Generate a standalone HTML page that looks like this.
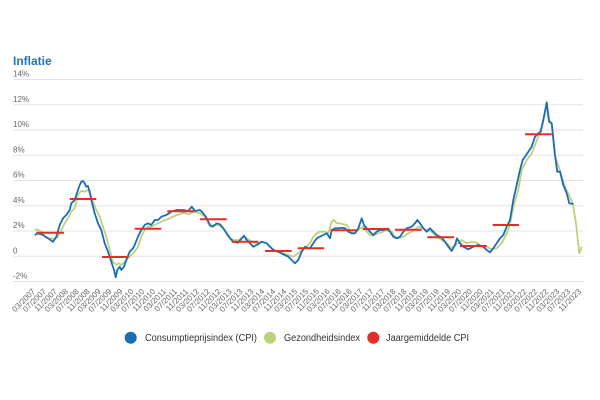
<!DOCTYPE html>
<html><head><meta charset="utf-8"><style>
html,body{margin:0;padding:0;background:#fff;}
svg{display:block;font-family:"Liberation Sans",sans-serif;}
</style></head><body>
<svg width="600" height="400" viewBox="0 0 600 400" xmlns="http://www.w3.org/2000/svg">
<rect width="600" height="400" fill="#fff"/>
<text x="13" y="65" font-size="12" font-weight="bold" fill="#2475b5">Inflatie</text>
<g stroke="#e3e3e3" stroke-width="1">
<line x1="13" x2="583" y1="79.5" y2="79.5"/>
<line x1="13" x2="583" y1="104.8" y2="104.8"/>
<line x1="13" x2="583" y1="130" y2="130"/>
<line x1="13" x2="583" y1="155.3" y2="155.3"/>
<line x1="13" x2="583" y1="180.5" y2="180.5"/>
<line x1="13" x2="583" y1="205.8" y2="205.8"/>
<line x1="13" x2="583" y1="231" y2="231"/>
<line x1="13" x2="583" y1="256.3" y2="256.3"/>
<line x1="13" x2="583" y1="281.5" y2="281.5"/>
</g>
<g font-size="8" fill="#666">
<text x="13" y="76.5">14%</text>
<text x="13" y="101.8">12%</text>
<text x="13" y="127">10%</text>
<text x="13" y="152.3">8%</text>
<text x="13" y="177.5">6%</text>
<text x="13" y="202.8">4%</text>
<text x="13" y="228">2%</text>
<text x="13" y="253.3">0</text>
<text x="13" y="278.5">-2%</text>
</g>
<polyline fill="none" stroke="#bdd17c" stroke-width="1.8" stroke-linejoin="round" points="34.7,229.3 38,230 41.3,231.7 44.7,236.7 48,238.3 51.3,238.3 54.7,239.3 58,236.7 61.3,230 64.7,223.3 68,218.3 71.3,211.7 74.7,208.3 78,195 81.3,190.7 84.7,191.7 88,190 89.7,193.3 93,201.7 96.3,210 99.7,216.7 103,226.7 106.3,236.7 109.7,250 113,261.7 116.3,265 118.7,263.3 121.3,265 124.7,261.7 128,258.3 131.3,255 134.7,251.7 138,246.7 141.3,236.7 144.7,230 148,226.7 151.3,226.7 154.7,225 158,223.3 161.3,221.7 168,219 174.7,216 180,214 183.3,212.5 188.3,214.3 193.3,211.7 200,213.3 205,216.7 210,226.7 213.3,225 218.3,225 223.3,228.3 228.3,236.7 233.3,240 238.3,240 243.3,236.7 246.7,238.3 251.7,241.7 256.7,243.3 261.7,241.7 266.7,243.3 271.7,248.3 276.7,251.7 283.3,253.3 288.3,255 293.3,256.7 298.3,253.3 301.7,250 305,248.3 310,243.3 313.3,236.7 316.7,233.3 320,231.7 325,231.7 328.3,233.3 331.7,221.7 334,220 336.7,223.3 340,223.3 343.3,224.3 346.7,225 350,231 353.3,233.3 356.7,231.7 360,228.3 363.3,226.7 366.7,231.7 370,235 373.3,235.7 378.3,233.3 383.3,231.7 388.3,228.3 391.7,231.7 395,236.7 398.3,238.3 403.3,236.7 408.3,233.3 413.3,231 418.3,226.7 423.3,228.3 426.7,230 431.7,231.7 436.7,236.7 441.7,240 446.7,243.3 451.7,248.3 455,245 458.3,243.3 461.7,240 466.7,243.3 471.7,241.7 476.7,242.7 481.7,246.7 486.7,246.7 491.7,249.3 496.7,248.3 501.7,243.3 506.7,233.3 510,225 513.3,206.7 518.3,190 521.7,170 526.7,160 531.7,153.3 535,145 538.3,136.7 541.7,126.7 545,113.3 546.7,101.7 549.3,120 551.7,123.3 555,156.7 558.3,165 561.7,176.7 565,186.7 568.3,193.3 572.7,203.3 576,223.3 579.3,253.3 581.7,246.7"/>
<polyline fill="none" stroke="#1b6db3" stroke-width="1.8" stroke-linejoin="round" points="34.7,235 38,233.3 43,235 48,238.3 53,241.7 56.3,236.7 59.7,225 63,218.3 66.3,215 69.7,210 71.3,203.3 73,201.7 74.7,200 76.3,195 78,190 79.7,185 81.3,181.7 83,181 84.7,183.3 86.3,186.7 88,186 89.7,191.7 91.3,200 94.7,213.3 98,223.3 101.3,230 104.7,243.3 108,251.7 111.3,261.7 114,270 115.7,277.3 117.3,270 119.7,266.7 121.3,270 124,266.7 126.3,260 129.7,251.7 133,248.3 134.7,245 138,236.7 141.3,230 144.7,225 148,223.3 151.3,225 154.7,220 158,220 161.3,216.7 166.3,215 171.3,211.7 176.7,210 183.3,210 188.3,211 191.7,206.7 195,211 200,210 203.3,213.3 206.7,218.3 210,225 212.7,226.7 216.7,223.3 220,224.3 223.3,228.3 226.7,233.3 230,238.3 233.3,241.7 238.3,242.7 241.7,238.3 244,235.7 246.7,240 250,243.3 253.3,246.7 256.7,245 261.7,241.7 266.7,243.3 270,246.7 273.3,250 278.3,251.7 283.3,254.3 288.3,256.7 291.7,260 295,263.3 298.3,260 301.7,251.7 305,246.7 308.3,248.3 310,248.3 313.3,243.3 316.7,238.3 320,236.7 323.3,235 326.7,233.3 330,238.3 331.7,230 335,228.3 338.3,228.3 341.7,227.7 345,228.3 348.3,231.7 351.7,233.3 355,233.3 358.3,228.3 361.7,218.3 364,225 366.7,228.3 370,231.7 373.3,235 376.7,231.7 380,230 383.3,230 386.7,229 390,231.7 393.3,236.7 396.7,238.3 400,236.7 403.3,231.7 406.7,228.3 411.7,226.7 415,223.3 417.3,220 420,223.3 423.3,228.3 426.7,231.7 430,228.3 433.3,231.7 436.7,235 441.7,237.7 445,241.7 448.3,246.7 451.7,251 455,245 457,238.3 460,243.3 463.3,246.7 468.3,249.3 473.3,246.7 478.3,245 483.3,246.7 486.7,250 490,252.3 493.3,248.3 496.7,243.3 500,238.3 503.3,235 506.7,226.7 510,220 513.3,200 516.7,185 520,170 522.7,160 525,156.7 528.3,151.7 531.7,146.7 535,136.7 538.3,133.3 540.7,131.7 543.3,120 546.7,102.7 549,121.7 551.7,123.3 555,155 557.3,171.7 560,171.7 563.3,185 566.7,193.3 569.3,203.3 573.3,204"/>
<g stroke="#e52d27" stroke-width="2">
<line x1="36.3" x2="64" y1="232.7" y2="232.7"/>
<line x1="69.7" x2="96.3" y1="199" y2="199"/>
<line x1="102" x2="128.7" y1="257" y2="257"/>
<line x1="134.7" x2="161.3" y1="228.7" y2="228.7"/>
<line x1="167.3" x2="194" y1="211.3" y2="211.3"/>
<line x1="200" x2="226.7" y1="219.3" y2="219.3"/>
<line x1="231.7" x2="258.3" y1="241.7" y2="241.7"/>
<line x1="265" x2="291.7" y1="251" y2="251"/>
<line x1="297.7" x2="324" y1="248.3" y2="248.3"/>
<line x1="330.7" x2="356.7" y1="230.3" y2="230.3"/>
<line x1="362.7" x2="389.3" y1="229" y2="229"/>
<line x1="395" x2="421.7" y1="229.7" y2="229.7"/>
<line x1="427.3" x2="454" y1="237.3" y2="237.3"/>
<line x1="460" x2="486.7" y1="246" y2="246"/>
<line x1="492.7" x2="519" y1="225" y2="225"/>
<line x1="525" x2="551.7" y1="134.3" y2="134.3"/>
</g>
<g font-size="8" fill="#666" text-anchor="end">
<text transform="translate(35.7,292) rotate(-45)">03/2007</text>
<text transform="translate(46.6,292) rotate(-45)">07/2007</text>
<text transform="translate(57.5,292) rotate(-45)">11/2007</text>
<text transform="translate(68.5,292) rotate(-45)">03/2008</text>
<text transform="translate(79.4,292) rotate(-45)">07/2008</text>
<text transform="translate(90.3,292) rotate(-45)">11/2008</text>
<text transform="translate(101.2,292) rotate(-45)">03/2009</text>
<text transform="translate(112.1,292) rotate(-45)">07/2009</text>
<text transform="translate(123.1,292) rotate(-45)">11/2009</text>
<text transform="translate(134,292) rotate(-45)">03/2010</text>
<text transform="translate(144.9,292) rotate(-45)">07/2010</text>
<text transform="translate(155.8,292) rotate(-45)">11/2010</text>
<text transform="translate(166.7,292) rotate(-45)">03/2011</text>
<text transform="translate(177.7,292) rotate(-45)">07/2011</text>
<text transform="translate(188.6,292) rotate(-45)">11/2011</text>
<text transform="translate(199.5,292) rotate(-45)">03/2012</text>
<text transform="translate(210.4,292) rotate(-45)">07/2012</text>
<text transform="translate(221.3,292) rotate(-45)">11/2012</text>
<text transform="translate(232.3,292) rotate(-45)">03/2013</text>
<text transform="translate(243.2,292) rotate(-45)">07/2013</text>
<text transform="translate(254.1,292) rotate(-45)">11/2013</text>
<text transform="translate(265,292) rotate(-45)">03/2014</text>
<text transform="translate(275.9,292) rotate(-45)">07/2014</text>
<text transform="translate(286.9,292) rotate(-45)">11/2014</text>
<text transform="translate(297.8,292) rotate(-45)">03/2015</text>
<text transform="translate(308.7,292) rotate(-45)">07/2015</text>
<text transform="translate(319.6,292) rotate(-45)">11/2015</text>
<text transform="translate(330.5,292) rotate(-45)">03/2016</text>
<text transform="translate(341.5,292) rotate(-45)">07/2016</text>
<text transform="translate(352.4,292) rotate(-45)">11/2016</text>
<text transform="translate(363.3,292) rotate(-45)">03/2017</text>
<text transform="translate(374.2,292) rotate(-45)">07/2017</text>
<text transform="translate(385.1,292) rotate(-45)">11/2017</text>
<text transform="translate(396.1,292) rotate(-45)">03/2018</text>
<text transform="translate(407,292) rotate(-45)">07/2018</text>
<text transform="translate(417.9,292) rotate(-45)">11/2018</text>
<text transform="translate(428.8,292) rotate(-45)">03/2019</text>
<text transform="translate(439.7,292) rotate(-45)">07/2019</text>
<text transform="translate(450.7,292) rotate(-45)">11/2019</text>
<text transform="translate(461.6,292) rotate(-45)">03/2020</text>
<text transform="translate(472.5,292) rotate(-45)">07/2020</text>
<text transform="translate(483.4,292) rotate(-45)">11/2020</text>
<text transform="translate(494.3,292) rotate(-45)">03/2021</text>
<text transform="translate(505.3,292) rotate(-45)">07/2021</text>
<text transform="translate(516.2,292) rotate(-45)">11/2021</text>
<text transform="translate(527.1,292) rotate(-45)">03/2022</text>
<text transform="translate(538,292) rotate(-45)">07/2022</text>
<text transform="translate(548.9,292) rotate(-45)">11/2022</text>
<text transform="translate(559.9,292) rotate(-45)">03/2023</text>
<text transform="translate(570.8,292) rotate(-45)">07/2023</text>
<text transform="translate(581.7,292) rotate(-45)">11/2023</text>
</g>
<circle cx="130.7" cy="337.7" r="6" fill="#1b6db3"/>
<circle cx="270" cy="337.7" r="6" fill="#bdd17c"/>
<circle cx="373.3" cy="337.7" r="6" fill="#e52d27"/>
<g font-size="10" fill="#333">
<text x="145" y="341.2" textLength="112" lengthAdjust="spacingAndGlyphs">Consumptieprijsindex (CPI)</text>
<text x="284" y="341.2" textLength="76" lengthAdjust="spacingAndGlyphs">Gezondheidsindex</text>
<text x="386" y="341.2" textLength="83" lengthAdjust="spacingAndGlyphs">Jaargemiddelde CPI</text>
</g>
</svg>
</body></html>
